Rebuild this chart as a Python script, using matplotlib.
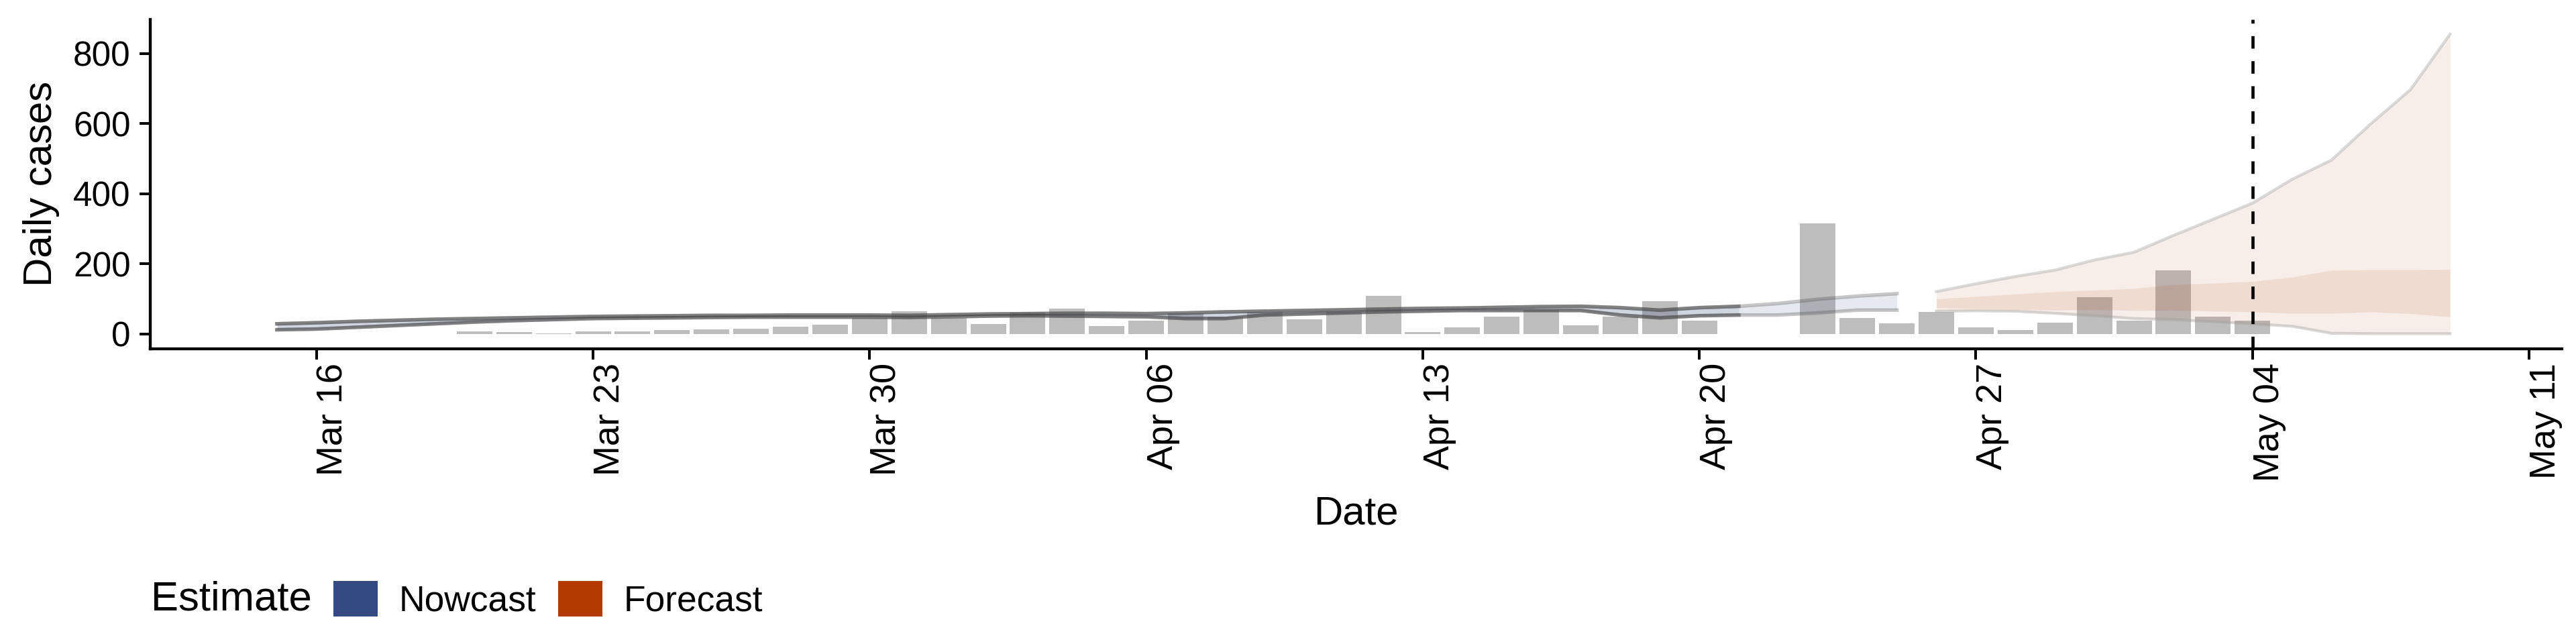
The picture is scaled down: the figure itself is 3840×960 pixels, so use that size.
import numpy as np
import pandas as pd
import matplotlib
matplotlib.use("Agg")
import matplotlib.pyplot as plt
import matplotlib.dates as mdates
from matplotlib.patches import Patch

plt.rcParams['font.family'] = ['Liberation Sans', 'DejaVu Sans']

# --- reported daily cases (bars) ---
case_dates = pd.date_range("2020-03-20", "2020-05-04", freq="D")
cases = [7, 5, 2, 7, 7, 11, 13, 15, 21, 26,          # Mar 20 - Mar 29
         45, 64, 45, 28, 61, 72, 22, 38, 59, 50,     # Mar 30 - Apr 08
         62, 41, 62, 108, 5, 18, 49, 69, 24, 50,     # Apr 09 - Apr 18
         93, 38, 0, 0, 316, 45, 31, 63, 18, 12,      # Apr 19 - Apr 28
         33, 104, 38, 182, 50, 37]                   # Apr 29 - May 04

# --- nowcast interval (Mar 15 - Apr 25) ---
now_dates = pd.date_range("2020-03-15", "2020-04-25", freq="D")
now_upper = [29, 32, 36, 39, 42, 44, 46, 48, 50, 51, 52, 53, 53, 54, 54, 54,
             53, 55, 57, 58, 59, 59, 58, 60, 63, 65, 67, 69, 71, 73, 74, 76,
             78, 79, 75, 68, 75, 79, 87, 99, 108, 115]
now_lower = [12, 14, 19, 24, 29, 34, 38, 41, 44, 45, 46, 47, 48, 48, 48, 48,
             47, 49, 51, 52, 51, 50, 49, 44, 44, 54, 57, 60, 63, 65, 67, 67,
             67, 67, 54, 46, 52, 54, 54, 60, 68, 68]
now_firm_end = pd.Timestamp("2020-04-21")   # older part of the nowcast is denser

# --- forecast intervals (Apr 26 - May 09) ---
fc_dates = pd.date_range("2020-04-26", "2020-05-09", freq="D")
fc_upper90 = [121, 143, 164, 182, 211, 233, 281, 327, 373, 441, 496, 600, 697, 855]
fc_lower90 = [65, 66, 65, 59, 52, 44, 41, 35, 29, 22, 2, 1, 1, 1]
fc_upper50 = [100, 107, 114, 121, 125, 130, 141, 145, 150, 162, 182, 183, 183, 184]
fc_lower50 = [75, 72, 70, 68, 70, 67, 68, 65, 63, 59, 59, 63, 58, 49]

estimate_date = pd.Timestamp("2020-05-04")
week_ticks = pd.date_range("2020-03-16", "2020-05-11", freq="7D")
y_ticks = [0, 200, 400, 600, 800]

nowcast_col = "#344b82"
forecast_col = "#b33a00"

fig = plt.figure(figsize=(16, 4), dpi=240)
ax = fig.add_axes([0.0583, 0.4583, 0.9362, 0.5119])

# bars first so the ribbons tint them
ax.bar(case_dates, cases, width=0.9, color="#bdbdbd", zorder=1)

# nowcast: two layers, the older part overlaps and looks darker
for end, edge_a in [(now_dates[-1], 0.3), (now_firm_end, 0.55)]:
    m = now_dates <= end
    x = now_dates[m]
    hi = np.array(now_upper)[m]
    lo = np.array(now_lower)[m]
    ax.fill_between(x, lo, hi, color=nowcast_col, alpha=0.12, lw=0, zorder=2)
    ax.plot(x, hi, color="#484848", alpha=edge_a, lw=1.6, zorder=3)
    ax.plot(x, lo, color="#484848", alpha=edge_a, lw=1.6, zorder=3)

# forecast ribbons
ax.fill_between(fc_dates, fc_lower90, fc_upper90, color=forecast_col, alpha=0.085, lw=0, zorder=2)
ax.plot(fc_dates, fc_upper90, color="#a0a0a0", alpha=0.4, lw=1.3, zorder=3)
ax.plot(fc_dates, fc_lower90, color="#a0a0a0", alpha=0.4, lw=1.3, zorder=3)
ax.fill_between(fc_dates, fc_lower50, fc_upper50, color=forecast_col, alpha=0.1, lw=0, zorder=2)

ax.axvline(estimate_date, color="black", lw=1.4, ls=(0, (4, 4)), zorder=4)

# --- axes formatting ---
ax.set_xlim(pd.Timestamp("2020-03-16") - pd.Timedelta(days=4.21),
            pd.Timestamp("2020-03-16") + pd.Timedelta(days=56.83))
ax.set_ylim(-42.5, 898)
ax.set_xticks(week_ticks)
ax.xaxis.set_major_formatter(mdates.DateFormatter("%b %d"))
ax.set_yticks(y_ticks)

for s in ["top", "right"]:
    ax.spines[s].set_visible(False)
for s in ["left", "bottom"]:
    ax.spines[s].set_linewidth(1.3)
ax.tick_params(axis="both", length=4.8, width=1.2, colors="black")
ax.tick_params(axis="x", pad=1.5, labelsize=16.2)
ax.tick_params(axis="y", pad=4, labelsize=15.4)
for lab in ax.get_xticklabels():
    lab.set_rotation(90)
    lab.set_ha("left")
    lab.set_va("top")

ax.set_xlabel("Date", fontsize=18, labelpad=6)
ax.set_ylabel("Daily cases", fontsize=18, labelpad=6)

# --- legend, title on the left like ggplot ---
fig.text(0.0586, 0.069, "Estimate", fontsize=18.5, va="center", ha="left")
handles = [Patch(facecolor=nowcast_col, edgecolor="none"),
           Patch(facecolor=forecast_col, edgecolor="none")]
fig.legend(handles, ["Nowcast", "Forecast"], loc="center left",
           bbox_to_anchor=(0.1294, 0.069), ncol=2, frameon=False,
           fontsize=16, handlelength=1.24, handleheight=1.15,
           handletextpad=0.6, columnspacing=0.6, borderpad=0, borderaxespad=0)

fig.savefig("out.png", dpi=240)
